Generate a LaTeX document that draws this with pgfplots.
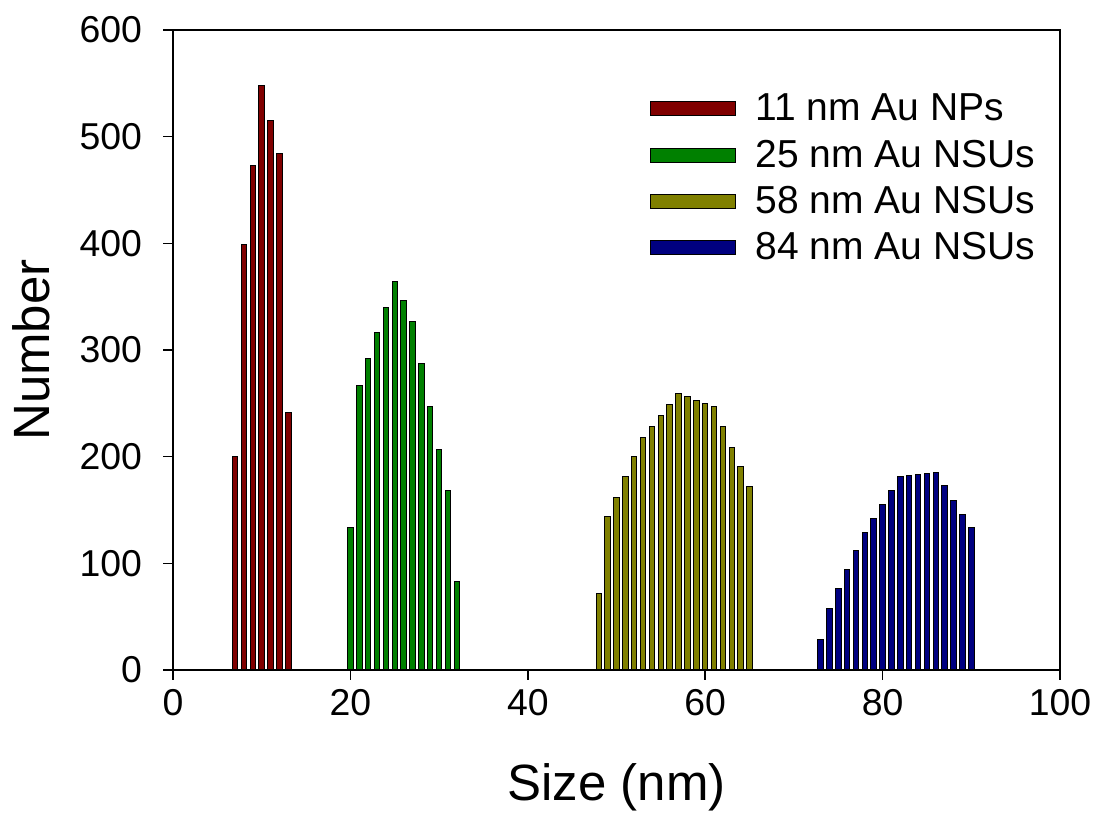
\documentclass[border=0pt]{standalone}
\usepackage{pgfplots}
\pgfplotsset{compat=1.18}
\usepackage{fontspec}
\setmainfont{Liberation Sans}
\definecolor{cred}{HTML}{800000}
\definecolor{cgreen}{HTML}{008000}
\definecolor{colive}{HTML}{808000}
\definecolor{cblue}{HTML}{000080}
\begin{document}
\begin{tikzpicture}
\useasboundingbox (-86.5pt,-73.5pt) rectangle (461pt,335pt);
\begin{axis}[
  scale only axis,
  width=443.5pt, height=320pt,
  xmin=0, xmax=100, ymin=0, ymax=600,
  xtick={0,20,40,60,80,100},
  ytick={0,100,200,300,400,500,600},
  tick align=outside,
  xtick pos=left, ytick pos=left,
  major tick length=5pt,
  axis line style={line width=0.8pt},
  every tick/.style={black, line width=0.8pt},
  /pgf/number format/assume math mode=true,
  tick label style={font=\fontsize{18.7}{22}\selectfont},
  xticklabel style={yshift=-1pt},
  yticklabel style={xshift=-7pt},
  xlabel={Size (nm)},
  ylabel={Number},
  label style={font=\fontsize{25.5}{30}\selectfont},
  xlabel style={yshift=-17pt},
  ylabel style={yshift=8pt},
  ybar, bar shift=0pt, bar width=0.62,
  legend style={draw=none, fill=none, at={(0.53,0.913)}, anchor=north west,
    font=\fontsize{19.5}{23}\selectfont, row sep=4pt,
    /tikz/every odd column/.append style={column sep=8pt}},
  legend cell align=left,
  legend image code/.code={\draw[#1, draw=black, line width=0.5pt] (0pt,-3.5pt) rectangle (42.5pt,3.5pt);},
]
\addplot[fill=cred, draw=black, line width=0.5pt] coordinates {
(7,200) (8,399) (9,473) (10,548) (11,515) (12,484) (13,241)};
\addlegendentry{11 nm Au NPs}
\addplot[fill=cgreen, draw=black, line width=0.5pt] coordinates {
(20,134) (21,267) (22,292) (23,316) (24,340) (25,364) (26,346) (27,327) (28,287) (29,247) (30,207) (31,168) (32,83)};
\addlegendentry{25 nm Au NSUs}
\addplot[fill=colive, draw=black, line width=0.5pt] coordinates {
(48,72) (49,144) (50,162) (51,181) (52,200) (53,218) (54,228) (55,239) (56,249) (57,259) (58,256) (59,253) (60,250) (61,247) (62,228) (63,209) (64,191) (65,172)};
\addlegendentry{58 nm Au NSUs}
\addplot[fill=cblue, draw=black, line width=0.5pt] coordinates {
(73,29) (74,58) (75,76) (76,94) (77,112) (78,129) (79,142) (80,155) (81,168) (82,181) (83,182) (84,183) (85,184) (86,185) (87,173) (88,159) (89,146) (90,134)};
\addlegendentry{84 nm Au NSUs}
\end{axis}
\end{tikzpicture}
\end{document}
